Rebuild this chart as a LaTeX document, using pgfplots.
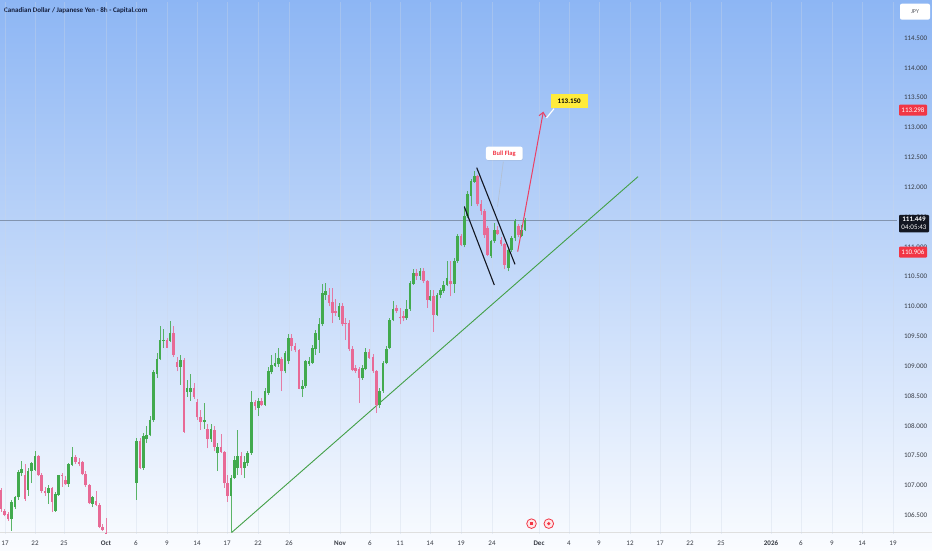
\documentclass[border=0pt]{standalone}
\usepackage{fontspec}
\setmainfont{Carlito}
\usepackage{pgfplots}
\pgfplotsset{compat=1.18}
\usepackage{pgfplotstable}
\usetikzlibrary{arrows.meta,shadows}
\definecolor{topblue}{RGB}{141,182,244}
\definecolor{midblue}{RGB}{192,216,248}
\definecolor{botwhite}{RGB}{250,252,255}
\definecolor{upc}{RGB}{66,170,78}
\definecolor{dnc}{RGB}{232,106,150}
\definecolor{tvred}{RGB}{242,54,69}
\definecolor{arrowred}{RGB}{235,64,100}
\definecolor{tvdark}{RGB}{19,23,34}
\definecolor{navy}{RGB}{20,30,60}
\definecolor{trend}{RGB}{67,160,71}
\definecolor{flagyellow}{RGB}{255,235,59}
\definecolor{gridc}{RGB}{205,215,230}
\definecolor{pline}{RGB}{130,148,175}

\pgfplotstableread{
x o h l c
1.0 106.93 106.96 106.56 106.61
4.7 106.575 106.61 106.48 106.51
8.0 106.52 106.56 106.40 106.435
11.3 106.435 106.76 106.24 106.73
15.0 106.63 106.83 106.61 106.80
18.3 106.80 107.25 106.76 107.22
21.3 107.21 107.41 107.15 107.27
25.0 107.17 107.36 106.74 106.78
28.0 106.93 107.29 106.83 107.24
31.7 107.24 107.40 107.04 107.375
35.0 107.26 107.58 107.24 107.49
38.3 107.49 107.515 107.15 107.17
41.7 107.17 107.21 106.87 106.91
45.0 106.91 106.98 106.83 106.87
48.3 106.87 107.00 106.69 106.955
52.0 106.955 106.98 106.55 106.72
55.3 106.575 106.89 106.56 106.855
58.7 106.845 107.18 106.82 107.17
62.0 107.18 107.21 106.98 107.15
65.3 107.095 107.15 107.00 107.02
68.7 107.02 107.375 106.98 107.36
72.0 107.35 107.64 107.32 107.47
75.7 107.47 107.515 107.36 107.39
79.0 107.40 107.46 107.32 107.36
82.3 107.39 107.41 107.17 107.19
85.7 107.19 107.235 106.97 107.00
89.3 107.00 107.02 106.68 106.70
92.7 106.69 106.83 106.63 106.80
96.0 106.745 106.90 106.65 106.675
99.3 106.675 106.70 106.28 106.31
102.7 106.31 106.35 106.23 106.26
106.0 106.20 106.45 105.90 106.00
136.7 107.04 107.79 106.76 107.75
140.0 107.75 107.79 107.28 107.29
143.3 107.29 107.88 107.26 107.82
146.7 107.77 107.99 107.71 107.85
150.0 107.84 108.16 107.82 108.10
153.3 108.09 108.94 108.07 108.90
157.0 108.86 109.22 108.80 109.12
160.0 109.12 109.67 109.11 109.43
163.3 109.43 109.62 109.30 109.44
167.0 109.43 109.47 109.30 109.31
170.0 109.42 109.75 109.40 109.55
173.7 109.55 109.67 109.16 109.19
177.0 109.07 109.16 108.91 108.99
180.3 108.99 109.19 108.69 109.11
184.0 109.11 109.14 107.88 107.90
187.0 108.57 108.77 108.49 108.63
190.3 108.57 108.86 108.42 108.63
194.0 108.63 108.72 108.45 108.48
197.0 108.40 108.45 108.10 108.14
200.7 108.14 108.27 107.93 108.06
204.3 108.06 108.38 107.95 108.10
207.3 107.95 108.03 107.62 107.77
211.0 107.77 108.03 107.73 107.95
214.3 107.93 107.99 107.57 107.64
217.7 107.54 107.71 107.24 107.65
221.0 107.65 107.86 107.54 107.56
224.3 107.56 107.58 106.96 107.04
227.7 107.04 107.18 106.73 106.82
231.0 106.82 107.18 106.22 107.12
234.3 107.12 107.49 107.10 107.43
237.7 107.29 107.93 107.18 107.49
241.0 107.50 107.56 107.18 107.29
244.3 107.29 107.49 107.12 107.39
247.7 107.37 107.57 107.32 107.54
251.7 107.54 108.58 107.51 108.40
255.0 108.39 108.44 108.27 108.33
258.3 108.30 108.47 108.16 108.41
261.7 108.41 108.47 108.33 108.35
265.0 108.35 108.63 108.33 108.58
268.3 108.55 108.99 108.52 108.91
271.7 108.90 109.18 108.86 109.02
275.0 109.01 109.22 108.99 109.06
278.3 109.03 109.30 108.99 109.14
281.7 109.12 109.16 108.58 108.91
285.0 108.91 109.25 108.88 109.22
288.3 109.08 109.53 109.04 109.47
291.7 109.47 109.53 109.25 109.33
295.0 109.33 109.39 109.23 109.27
299.0 109.27 109.29 108.61 108.62
302.3 108.62 108.77 108.48 108.67
305.7 108.66 109.11 108.63 109.08
309.0 109.04 109.16 109.01 109.08
312.3 109.06 109.36 109.04 109.30
315.7 109.29 109.60 109.19 109.56
319.0 109.44 109.81 109.22 109.71
322.3 109.70 110.38 109.67 110.22
325.7 110.20 110.40 110.11 110.26
329.0 110.20 110.31 110.00 110.06
332.3 110.07 110.31 109.72 109.89
335.7 109.92 110.12 109.84 109.89
339.0 109.82 110.06 109.78 110.01
342.3 110.01 110.06 109.67 109.70
345.7 109.72 109.81 109.44 109.70
349.0 109.72 109.78 109.25 109.28
352.3 109.29 109.33 108.91 108.94
355.7 108.97 109.02 108.89 108.91
359.0 108.95 108.99 108.38 108.80
362.3 108.80 109.02 108.77 108.97
365.7 108.95 109.30 108.93 109.23
369.0 109.23 109.29 109.12 109.14
373.0 109.15 109.21 108.89 108.91
376.3 108.91 108.94 108.21 108.34
379.7 108.34 108.63 108.30 108.58
383.0 108.58 109.08 108.55 109.06
386.3 109.05 109.33 109.03 109.28
389.7 109.30 109.81 109.28 109.78
393.0 109.78 110.09 109.75 109.95
396.7 109.98 110.03 109.89 109.92
400.0 109.83 109.98 109.70 109.80
403.3 109.84 109.92 109.75 109.80
406.7 109.80 110.11 109.78 109.96
410.0 109.95 110.42 109.92 110.39
413.3 110.38 110.62 110.36 110.56
416.7 110.56 110.62 110.45 110.51
420.0 110.51 110.65 110.45 110.60
423.3 110.60 110.64 110.39 110.42
427.3 110.42 110.45 109.98 110.11
430.0 110.10 110.28 110.09 110.17
433.7 110.17 110.28 109.58 109.86
437.0 109.86 110.23 109.84 110.20
440.3 110.20 110.31 110.14 110.27
443.7 110.26 110.42 110.23 110.36
447.0 110.36 110.76 110.34 110.48
450.3 110.43 110.76 110.17 110.38
454.3 110.38 110.81 110.23 110.77
457.7 110.76 111.21 110.73 111.18
461.0 111.18 111.21 111.01 111.03
464.3 111.03 111.68 110.99 111.51
467.7 111.51 111.93 111.49 111.88
471.0 111.85 112.13 111.68 112.10
474.3 112.09 112.27 112.07 112.18
477.7 112.18 112.21 111.68 111.71
481.0 111.71 111.78 111.54 111.60
484.3 111.60 111.63 111.15 111.19
487.7 111.32 111.35 110.84 110.86
491.0 110.84 111.12 110.81 111.09
494.3 111.09 111.40 111.07 111.29
497.7 111.29 111.35 111.19 111.22
501.0 111.12 111.16 111.01 111.04
504.3 111.04 111.07 110.62 110.70
508.3 110.65 110.97 110.59 110.95
511.7 110.94 111.18 110.92 111.14
515.0 111.14 111.47 111.09 111.43
518.3 111.35 111.39 111.16 111.20
521.7 111.18 111.37 111.16 111.29
525.0 111.29 111.49 111.26 111.449
}\candles

\begin{document}
\begin{tikzpicture}[x=1pt,y=1pt]
\shade[top color=topblue, middle color=midblue, bottom color=botwhite] (0,0) rectangle (932,550);
\useasboundingbox (0,0) rectangle (932,550);
\draw[color=gray!25, line width=0.5pt] (0,18) -- (932,18);
\node[anchor=west, text=navy, font=\fontsize{7}{8}\selectfont\bfseries, inner sep=0pt] at (4,539.5) {Canadian Dollar / Japanese Yen - 8h - Capital.com};
\begin{axis}[
  at={(0,27.4)}, anchor=south west, scale only axis,
  width=897pt, height=532pt,
  xmin=0, xmax=897, ymin=106.191, ymax=115.110,
  axis line style={draw=none},
  major tick length=0pt,
  clip mode=individual,
  xtick={5,35,64,106,136,167,197,227,258,289,340,370,400,430,461,492,539,569,599,630,660,690,721,771,801,832,862,893},
  xticklabels={17,22,25,\textbf{Oct},6,9,14,17,22,26,\textbf{Nov},6,11,14,19,24,\textbf{Dec},4,9,12,17,22,25,\textbf{2026},6,9,14,19},
  xticklabel style={yshift=-3.5pt},
  ytick={106.5,107,107.5,108,108.5,109,109.5,110,110.5,111,111.5,112,112.5,113,113.5,114,114.5},
  yticklabel pos=right,
  yticklabel style={/pgf/number format/.cd, fixed, fixed zerofill, precision=3, 1000 sep={}, /tikz/.cd, xshift=3.5pt},
  /pgf/number format/assume math mode=true,
  tick label style={font=\fontsize{7}{8}\selectfont, text=tvdark!85},
  xmajorgrids, grid style={color=gridc, opacity=0.35, line width=0.5pt},
]
% current price line
\addplot[color=pline, line width=0.6pt, forget plot] coordinates {(0,111.449) (897,111.449)};
% trendline
\addplot[color=trend, line width=0.9pt, forget plot] coordinates {(231.5,106.208) (638,112.176)};
% wicks
\addplot[draw=none, mark=none, forget plot,
  restrict expr to domain={\thisrow{c}-\thisrow{o}}{0:100},
  error bars/.cd, y dir=plus, y explicit, error mark=none,
  error bar style={draw=upc, line width=0.7pt, opacity=0.85}]
  table[x=x, y=l, y error expr=\thisrow{h}-\thisrow{l}] {\candles};
\addplot[draw=none, mark=none, forget plot,
  restrict expr to domain={\thisrow{c}-\thisrow{o}}{-100:-0.00001},
  error bars/.cd, y dir=plus, y explicit, error mark=none,
  error bar style={draw=dnc, line width=0.7pt, opacity=0.85}]
  table[x=x, y=l, y error expr=\thisrow{h}-\thisrow{l}] {\candles};
% bodies
\addplot[draw=none, mark=none, forget plot,
  restrict expr to domain={\thisrow{c}-\thisrow{o}}{0:100},
  error bars/.cd, y dir=plus, y explicit, error mark=none,
  error bar style={draw=upc, line width=2.7pt}]
  table[x=x, y=o, y error expr={max(\thisrow{c}-\thisrow{o},0.015)}] {\candles};
\addplot[draw=none, mark=none, forget plot,
  restrict expr to domain={\thisrow{c}-\thisrow{o}}{-100:-0.00001},
  error bars/.cd, y dir=plus, y explicit, error mark=none,
  error bar style={draw=dnc, line width=2.7pt}]
  table[x=x, y=c, y error expr={max(\thisrow{o}-\thisrow{c},0.015)}] {\candles};
% flag lines
\addplot[color=tvdark, line width=1.1pt, forget plot] coordinates {(476.7,112.327) (515,110.706)};
\addplot[color=tvdark, line width=1.1pt, forget plot] coordinates {(464.3,111.673) (494.3,110.360)};
% pointer of the Bull Flag label
\addplot[color=pline!60, line width=0.6pt, forget plot] coordinates {(503.3,112.427) (497.5,111.673)};
% target arrow
\addplot[color=arrowred, line width=1pt, forget plot, -{Straight Barb[length=4pt,width=7pt]}] coordinates {(517.7,110.919) (543.3,113.266)};
\addplot[color=white, line width=1.2pt, forget plot] coordinates {(554,113.316) (546.5,113.160)};
% labels
\node[fill=flagyellow, text=black, font=\fontsize{7}{8}\selectfont\bfseries, minimum width=37pt, minimum height=13.3pt, inner sep=1pt] at (axis cs:569.2,113.445) {113.150};
\node[fill=white, rounded corners=2pt, text=tvred, font=\fontsize{6.5}{7}\selectfont\bfseries, minimum width=36.7pt, minimum height=13.3pt, inner sep=1pt, drop shadow={opacity=0.12, shadow xshift=0.5pt, shadow yshift=-0.8pt}] at (axis cs:504.3,112.567) {Bull Flag};
% bottom event icons
\draw[tvred, line width=0.8pt, fill=tvred!12] (axis cs:531.5,106.359) circle[radius=4.8pt];
\fill[tvred] (axis cs:531.5,106.359) ++(-1.6pt,-1.8pt) rectangle ++(3.2pt,3.6pt);
\draw[tvred, line width=0.8pt, fill=tvred!12] (axis cs:548.8,106.359) circle[radius=4.8pt];
\fill[tvred] (axis cs:548.8,106.359) circle[radius=1.8pt];
% price scale tags
\node[fill=white, rounded corners=2pt, text=tvdark!70, font=\fontsize{6}{7}\selectfont, minimum width=30pt, minimum height=16pt, inner sep=1pt] at (axis cs:915,114.942) {JPY};
\node[fill=tvred, text=white, font=\fontsize{7}{8}\selectfont, minimum width=28pt, minimum height=11pt, inner sep=0.5pt, rounded corners=1pt] at (axis cs:913,113.291) {113.298};
\node[fill=tvred, text=white, font=\fontsize{7}{8}\selectfont, minimum width=28pt, minimum height=11pt, inner sep=0.5pt, rounded corners=1pt] at (axis cs:913,110.910) {110.906};
\node[fill=tvdark, text=white, font=\fontsize{7}{8}\selectfont, minimum width=30pt, inner xsep=0.5pt, inner ysep=2.5pt, align=center, rounded corners=1pt] at (axis cs:914,111.388) {\textbf{111.449}\\04:05:43};
\end{axis}
\end{tikzpicture}
\end{document}
